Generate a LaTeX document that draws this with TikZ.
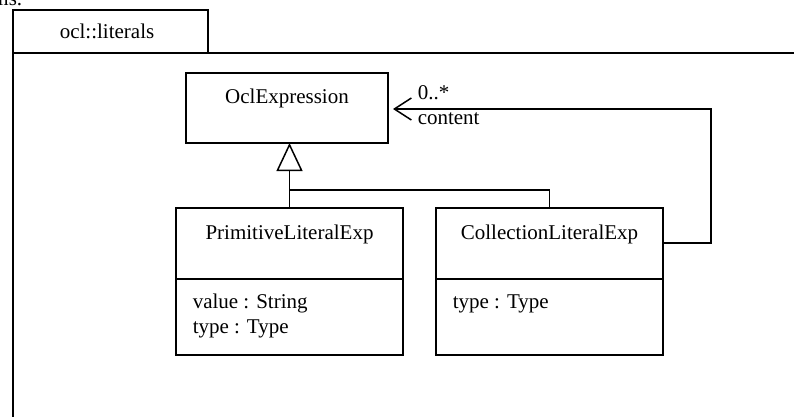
\documentclass[tikz,border=0pt]{standalone}
\usepackage{fontspec}
\setmainfont{Liberation Serif}
\usetikzlibrary{arrows.meta}
\begin{document}
\begin{tikzpicture}[x=1pt,y=-1pt,line width=1.5pt,
  box/.style={draw,line width=1.5pt,inner sep=0pt,outer sep=0pt,anchor=north west},
  lbl/.style={inner sep=0pt,anchor=base,font=\fontsize{21}{25}\selectfont},
  attr/.style={lbl,anchor=base west},
  generalization/.style={-{Triangle[open,length=28pt,width=26pt,fill=white]}},
  navigable/.style={-{Straight Barb[length=17pt,width=22pt]},shorten >=5pt}]
\useasboundingbox (0,0) rectangle (794,416);
\clip (0,0) rectangle (794,416);

% tail of the preceding text line
\node[lbl,anchor=base east] (prev) at (23,5) {ms.};

% package frame with its name tab
\node[box,minimum width=195pt,minimum height=43pt] (tab) at (13,10) {};
\node[box,minimum width=820pt,minimum height=420pt] (pkg) at (13,53) {};
\node[lbl] (tabname) at (107,38) {ocl::literals};

% classes
\node[box,minimum width=202pt,minimum height=70pt] (ocl) at (186,73) {};
\node[lbl] (oclname) at (287,103) {OclExpression};

\node[box,minimum width=227pt,minimum height=147pt] (prim) at (176,208) {};
\draw ([yshift=-71pt]prim.north west) -- ([yshift=-71pt]prim.north east);
\node[lbl] (primname) at (289.5,239) {PrimitiveLiteralExp};
\node[attr] (primvalue) at (192,308) {value : String};
\node[attr] (primtype) at (192,333) {type : Type};

\node[box,minimum width=227pt,minimum height=147pt] (coll) at (436,208) {};
\draw ([yshift=-71pt]coll.north west) -- ([yshift=-71pt]coll.north east);
\node[lbl] (collname) at (549.5,239) {CollectionLiteralExp};
\node[attr] (colltype) at (452,308) {type : Type};

% generalization
\coordinate (split) at (289.5,190);
\draw[generalization] (prim.north) -- (prim.north |- ocl.south);
\draw (coll.north) |- (split);

% association content
\coordinate (bend) at (711,109);
\draw[navigable] ([yshift=-35pt]coll.north east) -| (bend) -- (ocl.east |- bend);
\node[attr] (mult) at (417,99) {0..*};
\node[attr] (role) at (417,124) {content};
\end{tikzpicture}
\end{document}
